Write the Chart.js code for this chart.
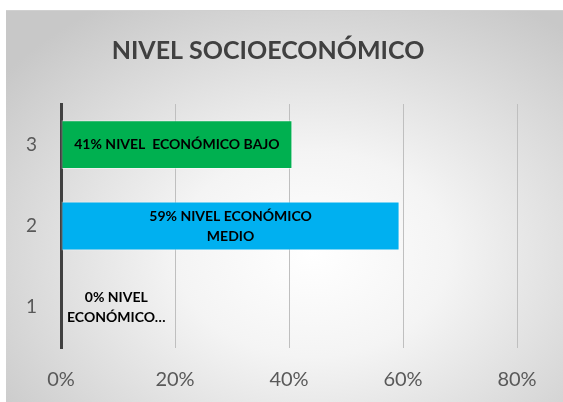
<!DOCTYPE html>
<html>
<head>
<meta charset="utf-8">
<script src="https://cdn.jsdelivr.net/npm/chart.js@4/dist/chart.umd.min.js"></script>
<style>
  html, body { margin: 0; padding: 0; background: #fff; }
  #wrap {
    position: absolute; left: 6px; top: 10px; width: 557px; height: 392px;
    background: radial-gradient(ellipse 70% 75% at 55% 62%, #ffffff 0%, #f4f4f4 35%, #d9d9d9 75%, #c8c8c8 100%);
    border-top: 1px solid #d0d0d0;
  }
</style>
</head>
<body>
<div id="wrap"><canvas id="chart" width="557" height="392"></canvas></div>
<script>
// === DATOS ===
const categorias = ['1', '2', '3'];
const valores = [0, 59.4, 40.6];
const etiquetas = [
    ['0% NIVEL', 'ECONÓMICO…'],
    ['59% NIVEL ECONÓMICO', 'MEDIO'],
    ['41% NIVEL  ECONÓMICO BAJO']
];
const colores = ['#00B050', '#00B0F0', '#00B050'];
const ticksX = [0, 20, 40, 60, 80];

// === ETIQUETAS DENTRO DE LAS BARRAS ===
const barLabels = {
    id: 'barLabels',
    afterDatasetsDraw(chart) {
        const ctx = chart.ctx;
        const meta = chart.getDatasetMeta(0);
        ctx.save();
        ctx.font = 'bold 14px Lato, sans-serif';
        ctx.fillStyle = '#000';
        ctx.textBaseline = 'middle';
        ctx.textAlign = 'center';
        meta.data.forEach((bar, i) => {
            const lines = etiquetas[i];
            const w = Math.max(...lines.map(l => ctx.measureText(l).width));
            const left = Math.min(bar.base, bar.x);
            const barW = Math.abs(bar.x - bar.base);
            let cx = left + barW / 2;
            if (w > barW) cx = left + 6 + w / 2;
            const lh = 20;
            const y0 = bar.y - (lines.length - 1) * lh / 2;
            lines.forEach((l, k) => ctx.fillText(l, cx, y0 + k * lh));
        });
        ctx.restore();
    }
};

new Chart(document.getElementById('chart'), {
    type: 'bar',
    data: {
        labels: categorias,
        datasets: [{
            data: valores,
            backgroundColor: colores,
            borderColor: 'rgba(255,255,255,0.45)',
            borderWidth: 1,
            borderSkipped: false,
            barPercentage: 0.6,
            categoryPercentage: 1
        }]
    },
    options: {
        indexAxis: 'y',
        responsive: false,
        animation: false,
        plugins: {
            legend: { display: false },
            tooltip: { enabled: false },
            title: {
                display: true,
                text: 'NIVEL SOCIOECONÓMICO',
                color: '#404040',
                font: { family: 'Lato, sans-serif', size: 25, weight: 'bold' },
                padding: { top: 25, bottom: 38 }
            }
        },
        layout: { padding: { left: 13, right: 46, bottom: 0 } },
        scales: {
            x: {
                min: 0,
                max: 80,
                afterBuildTicks: s => { s.ticks = ticksX.map(v => ({ value: v })); },
                afterFit: s => { s.height = 55; },
                grid: { color: '#bfbfbf', lineWidth: 1, drawTicks: false },
                border: { display: false },
                ticks: {
                    color: '#595959',
                    padding: 20,
                    font: { family: 'Lato, sans-serif', size: 20 },
                    callback: v => v + '%'
                }
            },
            y: {
                reverse: true,
                afterFit: s => { s.width = 42; },
                grid: { display: false, drawTicks: false },
                border: { display: true, color: '#404040', width: 3 },
                ticks: {
                    color: '#595959',
                    padding: 24,
                    font: { family: 'Lato, sans-serif', size: 19 }
                }
            }
        }
    },
    plugins: [barLabels]
});
</script>
</body>
</html>
